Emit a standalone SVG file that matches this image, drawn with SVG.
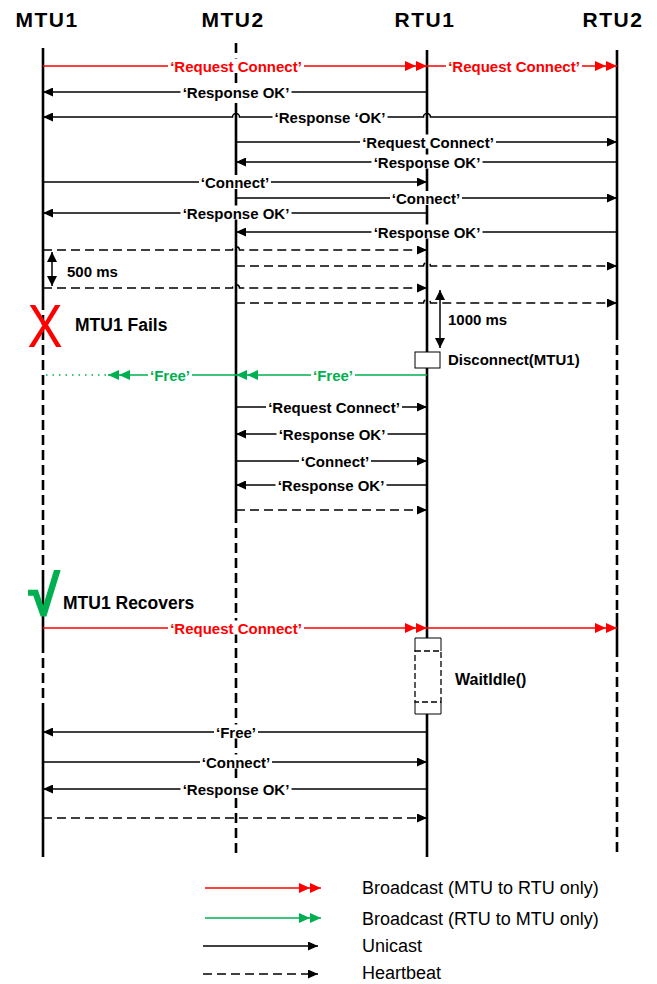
<svg xmlns="http://www.w3.org/2000/svg" width="657" height="984" viewBox="0 0 657 984">
<defs>
<style>
.hdr{font-family:"Liberation Sans",Arial,sans-serif;font-weight:bold;font-size:21px;letter-spacing:1.5px;text-anchor:middle;fill:#000}
.ll{stroke:#000;stroke-width:2.6;fill:none}
.lld{stroke:#000;stroke-width:2.6;fill:none;stroke-dasharray:10 5}
.msg{stroke:#000;stroke-width:1.5;fill:none}
.hb{stroke:#000;stroke-width:1.5;fill:none;stroke-dasharray:9 5}
.red{stroke:#FF0000;stroke-width:1.5;fill:none}
.grn{stroke:#00B050;stroke-width:1.5;fill:none}
.dot{stroke:#00B050;stroke-width:1.5;fill:none;stroke-dasharray:1.5 5}
.lbl{font-family:"Liberation Sans",Arial,sans-serif;font-weight:bold;font-size:15px;text-anchor:middle;fill:#000}
.lr{fill:#FF0000}
.lg{fill:#00B050}
.bg{fill:#fff}
.note{font-family:"Liberation Sans",Arial,sans-serif;font-weight:bold;font-size:15px;fill:#000}
.big{font-family:"Liberation Sans",Arial,sans-serif;font-weight:bold;font-size:17.5px;fill:#000}
.leg{font-family:"Liberation Sans",Arial,sans-serif;font-size:18px;fill:#000}
</style>
<marker id="ah" viewBox="0 0 10 9" refX="10" refY="4.5" markerWidth="10" markerHeight="9" markerUnits="userSpaceOnUse" orient="auto"><path d="M0,0 L10,4.5 L0,9 z" fill="#000"/></marker>
<marker id="ah2" viewBox="0 0 10 10" refX="10" refY="5" markerWidth="10" markerHeight="10" markerUnits="userSpaceOnUse" orient="auto-start-reverse"><path d="M0,0 L10,5 L0,10 z" fill="#000"/></marker>
<marker id="dr" viewBox="0 0 22 10" refX="22" refY="5" markerWidth="22" markerHeight="10" markerUnits="userSpaceOnUse" orient="auto"><path d="M0,0 L11,5 L0,10 z M11,0 L22,5 L11,10 z" fill="#FF0000"/></marker>
<marker id="dg" viewBox="0 0 22 10" refX="22" refY="5" markerWidth="22" markerHeight="10" markerUnits="userSpaceOnUse" orient="auto"><path d="M0,0 L11,5 L0,10 z M11,0 L22,5 L11,10 z" fill="#00B050"/></marker>
</defs>
<rect width="657" height="984" fill="#fff"/>

<g id="mtu1">
<text class="hdr" x="47" y="27">MTU1</text>
<path class="ll" d="M43,48 V300 M43,570 V643 M43,705 V857"/>
<path class="lld" d="M43,300 V570 M43,643 V705"/>
</g>
<g id="mtu2">
<text class="hdr" x="233" y="27">MTU2</text>
<path class="lld" d="M236,43 V103 M236,513 V857"/>
<path class="ll" d="M236,103 V513"/>
</g>
<g id="rtu1">
<text class="hdr" x="425" y="27">RTU1</text>
<path class="ll" d="M427,50 V857"/>
</g>
<g id="rtu2">
<text class="hdr" x="613" y="27">RTU2</text>
<path class="ll" d="M617,50 V330 M617,613 V647"/>
<path class="lld" d="M617,330 V613 M617,647 V857"/>
</g>

<g id="connectors">
<path class="red" d="M43,66 L427,66" marker-end="url(#dr)"/>
<rect class="bg" x="168" y="58.5" width="136" height="14"/><text class="lbl lr" x="236" y="71.5">‘Request Connect’</text>
<path class="red" d="M427,66 L617,66" marker-end="url(#dr)"/>
<rect class="bg" x="446" y="58.5" width="136" height="14"/><text class="lbl lr" x="514" y="71.5">‘Request Connect’</text>

<path class="msg" d="M427,92 L43,92" marker-end="url(#ah)"/>
<rect class="bg" x="180.5" y="84.5" width="111" height="14"/><text class="lbl" x="236" y="97.5">‘Response OK’</text>

<path class="msg" d="M617,117 L430.5,117 A3.5,3.5 0 0 0 423.5,117 L239.5,117 A3.5,3.5 0 0 0 232.5,117 L43,117" marker-end="url(#ah)"/>
<rect class="bg" x="272.5" y="109.5" width="115" height="14"/><text class="lbl" x="330" y="122.5">‘Response ‘OK’</text>

<path class="msg" d="M236,142 L617,142" marker-end="url(#ah)"/>
<rect class="bg" x="360" y="134.5" width="136" height="14"/><text class="lbl" x="428" y="147.5">‘Request Connect’</text>

<path class="msg" d="M617,162 L236,162" marker-end="url(#ah)"/>
<rect class="bg" x="371.5" y="154.5" width="111" height="14"/><text class="lbl" x="427" y="167.5">‘Response OK’</text>

<path class="msg" d="M43,182 L427,182" marker-end="url(#ah)"/>
<rect class="bg" x="199" y="175" width="72" height="14"/><text class="lbl" x="235" y="187.5">‘Connect’</text>

<path class="msg" d="M236,198 L617,198" marker-end="url(#ah)"/>
<rect class="bg" x="390" y="191" width="72" height="14"/><text class="lbl" x="426" y="203.5">‘Connect’</text>

<path class="msg" d="M427,213 L43,213" marker-end="url(#ah)"/>
<rect class="bg" x="180.5" y="205.5" width="111" height="14"/><text class="lbl" x="236" y="218.5">‘Response OK’</text>

<path class="msg" d="M617,232 L236,232" marker-end="url(#ah)"/>
<rect class="bg" x="371.5" y="224.5" width="111" height="14"/><text class="lbl" x="427" y="237.5">‘Response OK’</text>

<path class="hb" d="M43,250 L232.5,250 A3.5,3.5 0 0 1 239.5,250 L427,250" marker-end="url(#ah)"/>
<path class="hb" d="M236,266 L423.5,266 A3.5,3.5 0 0 1 430.5,266 L617,266" marker-end="url(#ah)"/>
<path class="hb" d="M43,288 L232.5,288 A3.5,3.5 0 0 1 239.5,288 L427,288" marker-end="url(#ah)"/>
<path class="hb" d="M236,303 L423.5,303 A3.5,3.5 0 0 1 430.5,303 L617,303" marker-end="url(#ah)"/>

<path class="grn" d="M427,375 L236,375" marker-end="url(#dg)"/>
<rect class="bg" x="311" y="367.5" width="44" height="14"/><text class="lbl lg" x="333" y="380.5">‘Free’</text>
<path class="grn" d="M236,375 L108,375" marker-end="url(#dg)"/>
<rect class="bg" x="148" y="367.5" width="44" height="14"/><text class="lbl lg" x="170" y="380.5">‘Free’</text>
<path class="dot" d="M106,375 L44,375"/>

<path class="msg" d="M236,407 L427,407" marker-end="url(#ah)"/>
<rect class="bg" x="266" y="399.5" width="136" height="14"/><text class="lbl" x="334" y="412.5">‘Request Connect’</text>
<path class="msg" d="M427,434 L236,434" marker-end="url(#ah)"/>
<rect class="bg" x="276.5" y="426.5" width="111" height="14"/><text class="lbl" x="332" y="439.5">‘Response OK’</text>
<path class="msg" d="M236,461 L427,461" marker-end="url(#ah)"/>
<rect class="bg" x="299" y="453.5" width="72" height="14"/><text class="lbl" x="335" y="466.5">‘Connect’</text>
<path class="msg" d="M427,485 L236,485" marker-end="url(#ah)"/>
<rect class="bg" x="275.5" y="477.5" width="111" height="14"/><text class="lbl" x="331" y="490.5">‘Response OK’</text>
<path class="hb" d="M236,510 L427,510" marker-end="url(#ah)"/>

<path class="red" d="M43,628 L427,628" marker-end="url(#dr)"/>
<rect class="bg" x="168" y="620.5" width="136" height="14"/><text class="lbl lr" x="236" y="633.5">‘Request Connect’</text>
<path class="red" d="M427,628 L617,628" marker-end="url(#dr)"/>

<path class="msg" d="M427,732 L43,732" marker-end="url(#ah)"/>
<rect class="bg" x="214" y="724.5" width="44" height="14"/><text class="lbl" x="236" y="737.5">‘Free’</text>
<path class="msg" d="M43,762 L427,762" marker-end="url(#ah)"/>
<rect class="bg" x="200" y="754.5" width="72" height="14"/><text class="lbl" x="236" y="767.5">‘Connect’</text>
<path class="msg" d="M427,789 L43,789" marker-end="url(#ah)"/>
<rect class="bg" x="180.5" y="781.5" width="111" height="14"/><text class="lbl" x="236" y="794.5">‘Response OK’</text>
<path class="hb" d="M43,818 L427,818" marker-end="url(#ah)"/>
</g>

<g id="timer500">
<path class="msg" d="M52,252 L52,286" marker-start="url(#ah2)" marker-end="url(#ah2)"/>
<text class="note" x="67" y="277">500 ms</text>
</g>
<g id="timer1000">
<path class="msg" d="M440,290 L440,348" marker-start="url(#ah2)" marker-end="url(#ah2)"/>
<text class="note" x="448" y="325">1000 ms</text>
</g>
<g id="disconnect">
<rect x="415" y="352" width="25" height="16" fill="#fff" stroke="#000" stroke-width="1"/>
<text class="note" x="448" y="365">Disconnect(MTU1)</text>
</g>
<g id="waitidle">
<rect x="415" y="638" width="26" height="76" fill="#fff"/>
<path d="M415,651 V638 H441 V651 M415,702 V714 H441 V702" fill="none" stroke="#000" stroke-width="1"/>
<rect x="415" y="651" width="26" height="51" fill="#fff" stroke="#000" stroke-width="1.3" stroke-dasharray="6 3"/>
<text class="note" x="455" y="685" style="font-size:16px">WaitIdle()</text>
</g>
<g id="fail">
<text x="0" y="0" transform="translate(45,347) scale(0.85,1)" font-family="Liberation Sans, Arial, sans-serif" font-size="62" fill="#FF0000" text-anchor="middle">X</text>
<text class="big" x="75" y="331">MTU1 Fails</text>
</g>
<g id="recover">
<text x="44" y="615" font-family="Liberation Sans, Arial, sans-serif" font-weight="bold" font-size="56" fill="#00B050" stroke="#00B050" stroke-width="1.5" text-anchor="middle">√</text>
<text class="big" x="63" y="609">MTU1 Recovers</text>
</g>

<g id="legend">
<path class="red" d="M205,888 L321,888" marker-end="url(#dr)"/>
<text class="leg" x="362" y="894">Broadcast (MTU to RTU only)</text>
<path class="grn" d="M205,918 L321,918" marker-end="url(#dg)"/>
<text class="leg" x="362" y="925">Broadcast (RTU to MTU only)</text>
<path class="msg" d="M203,946 L318,946" marker-end="url(#ah)"/>
<text class="leg" x="362" y="952">Unicast</text>
<path class="hb" d="M203,974 L318,974" marker-end="url(#ah)"/>
<text class="leg" x="362" y="979">Heartbeat</text>
</g>
</svg>
